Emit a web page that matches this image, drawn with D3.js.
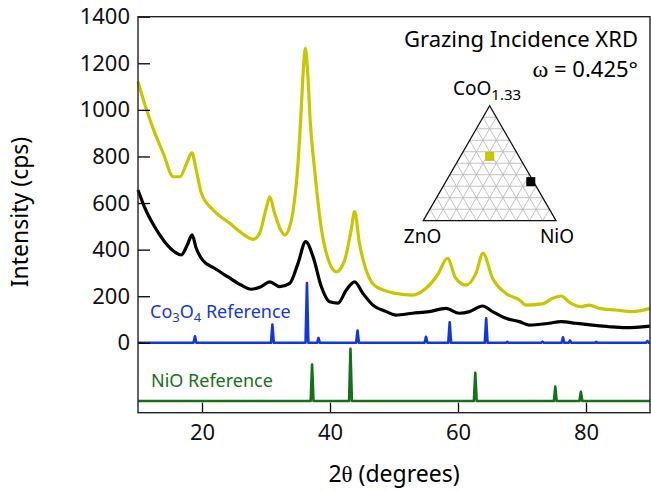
<!DOCTYPE html>
<html>
<head>
<meta charset="utf-8">
<script src="https://cdn.jsdelivr.net/npm/d3@7"></script>
<style>
  body { margin: 0; background: #fff; }
  svg { display: block; font-family: "Noto Sans", sans-serif; }
</style>
</head>
<body>
<svg id="chart" width="651" height="492"></svg>
<script>
// measured XRD traces, [2theta, cps]
const yellowScan = [
  [10, 1121], [11.35, 999], [12.65, 899], [13.95, 813], [15.5, 713], [16.55, 713],
  [17.6, 770], [18.4, 815], [19.2, 728], [19.9, 642], [21.75, 570], [24.35, 513],
  [26.4, 467], [28.0, 444], [29.0, 470], [30.0, 575], [30.6, 627], [31.3, 560],
  [32.2, 490], [32.9, 463], [33.6, 490], [34.2, 560], [35.0, 770], [35.5, 1000],
  [35.8, 1157], [36.15, 1264], [36.55, 1142], [36.9, 956], [37.6, 742], [38.65, 490],
  [39.7, 360], [41.0, 305], [42.3, 355], [43.3, 484], [43.85, 563], [44.6, 427],
  [45.65, 312], [47.2, 241], [50.3, 212], [52.9, 205], [55.0, 234], [56.8, 291],
  [58.35, 363], [59.65, 277], [61.25, 248], [62.8, 298], [63.9, 384], [65.4, 277],
  [67.5, 212], [69.6, 184], [70.6, 162], [73.2, 167], [74.8, 191], [76.1, 201],
  [77.6, 170], [79.2, 155], [80.5, 162], [82.05, 148], [84.65, 141], [87.25, 134],
  [90, 148]
];
const blackScan = [
  [10, 656], [11, 584], [12.6, 498], [14.15, 434], [15.7, 391], [16.75, 377],
  [17.7, 420], [18.45, 463], [19.1, 406], [20.1, 355], [21.95, 320], [24.0, 284],
  [26.1, 248], [27.65, 230], [29.2, 241], [30.6, 262], [32.15, 241], [33.7, 255],
  [35.0, 341], [36.2, 434], [37.35, 370], [38.65, 241], [39.95, 176], [41.25, 170],
  [42.55, 227], [43.85, 262], [45.15, 212], [46.7, 162], [48.8, 134], [50.3, 119],
  [52.9, 127], [55.5, 134], [58.1, 148], [60.2, 127], [61.8, 134], [63.85, 158],
  [65.4, 134], [67.5, 105], [69.6, 91], [71.1, 76], [74.25, 84], [76.1, 91],
  [78.4, 84], [81.0, 76], [83.6, 69], [86.2, 65], [90, 72]
];
// reference patterns, [2theta, peak height]
const co3o4Peaks = [
  [18.9, 28], [31.0, 78], [36.4, 257], [38.2, 21], [44.3, 53], [55.0, 26],
  [58.7, 88], [64.4, 105], [67.7, 4], [73.2, 5], [76.4, 24], [77.5, 10],
  [81.6, 4], [89.6, 8]
];
const nioPeaks = [[37.2, 157], [43.2, 224], [62.7, 121], [75.2, 62], [79.2, 40]];
const co3o4Base = 0;
const nioBase = -250;

const xTicks = [20, 40, 60, 80];
const yTicks = [0, 200, 400, 600, 800, 1000, 1200, 1400];

// ternary compositions [CoO1.33, ZnO, NiO]
const samples = [
  { name: 'yellow', comp: [0.56, 0.22, 0.22] },
  { name: 'black', comp: [0.34, 0.02, 0.64] }
];

const colors = { yellow: '#c8c600', black: '#000', co3o4: '#1438d8', nio: '#16701a' };

const svg = d3.select('#chart');
const x = d3.scaleLinear().domain([10, 90]).range([138, 650]);
const y = d3.scaleLinear().domain([-300, 1400]).range([412.7, 16.7]);

/**
 * Turns a list of sticks into a path with narrow spikes on a baseline.
 */
function stickPoints(peaks, base) {
  const pts = [[10, base]];
  peaks.forEach(([pos, h]) => {
    pts.push([pos - 0.22, base], [pos, base + h], [pos + 0.22, base]);
  });
  pts.push([90, base]);
  return pts;
}

function drawAxes() {
  svg.append('g')
    .attr('transform', 'translate(138,0)')
    .call(d3.axisLeft(y).tickValues(yTicks).tickFormat(d3.format('d'))
      .tickSizeInner(-12).tickSizeOuter(0).tickPadding(8))
    .call((g) => g.select('.domain').remove())
    .call((g) => g.selectAll('line').attr('stroke-width', 1.3))
    .call((g) => g.selectAll('text').attr('font-size', 22).attr('font-family', '"Noto Sans"').attr('fill', '#111'));

  svg.append('g')
    .attr('transform', 'translate(0,412.7)')
    .call(d3.axisBottom(x).tickValues(xTicks).tickSizeInner(-10).tickSizeOuter(0).tickPadding(12))
    .call((g) => g.select('.domain').remove())
    .call((g) => g.selectAll('line').attr('stroke-width', 1.3))
    .call((g) => g.selectAll('text').attr('font-size', 22).attr('font-family', '"Noto Sans"').attr('fill', '#111'));

  svg.append('rect')
    .attr('x', 138).attr('y', 16.7)
    .attr('width', 512).attr('height', 396)
    .attr('fill', 'none').attr('stroke', '#222').attr('stroke-width', 1.4);

  svg.append('text')
    .attr('transform', 'translate(28,212) rotate(-90)')
    .attr('text-anchor', 'middle')
    .attr('font-size', 23)
    .text('Intensity (cps)');

  const xl = svg.append('text')
    .attr('x', 394).attr('y', 482)
    .attr('text-anchor', 'middle')
    .attr('font-size', 23);
  xl.append('tspan').text('2');
  xl.append('tspan').attr('font-family', '"Liberation Serif", serif').text('θ');
  xl.append('tspan').text(' (degrees)');
}

function drawTraces() {
  const sharp = d3.line().x((d) => x(d[0])).y((d) => y(d[1]));
  const smooth = d3.line().x((d) => x(d[0])).y((d) => y(d[1])).curve(d3.curveMonotoneX);

  svg.append('path').datum(stickPoints(nioPeaks, nioBase))
    .attr('d', sharp).attr('fill', 'none')
    .attr('stroke', colors.nio).attr('stroke-width', 2.6).attr('stroke-linejoin', 'round');
  svg.append('path').datum(stickPoints(co3o4Peaks, co3o4Base))
    .attr('d', sharp).attr('fill', 'none')
    .attr('stroke', colors.co3o4).attr('stroke-width', 2.6).attr('stroke-linejoin', 'round');

  svg.append('path').datum(blackScan)
    .attr('d', smooth)
    .attr('fill', 'none').attr('stroke', colors.black).attr('stroke-width', 3.2);
  svg.append('path').datum(yellowScan)
    .attr('d', smooth)
    .attr('fill', 'none').attr('stroke', colors.yellow).attr('stroke-width', 3.2);

  const c = svg.append('text').attr('x', 150).attr('y', 318)
    .attr('font-size', 18).attr('fill', colors.co3o4);
  c.append('tspan').text('Co');
  c.append('tspan').attr('font-size', 13).attr('dy', 4).text('3');
  c.append('tspan').attr('dy', -4).text('O');
  c.append('tspan').attr('font-size', 13).attr('dy', 4).text('4');
  c.append('tspan').attr('dy', -4).text(' Reference');

  svg.append('text').attr('x', 151).attr('y', 387)
    .attr('font-size', 18).attr('fill', colors.nio)
    .text('NiO Reference');
}

function drawInset() {
  svg.append('text').attr('x', 638).attr('y', 47)
    .attr('text-anchor', 'end').attr('font-size', 22)
    .text('Grazing Incidence XRD');
  const w = svg.append('text').attr('x', 638).attr('y', 77)
    .attr('text-anchor', 'end').attr('font-size', 22);
  w.append('tspan').attr('font-family', '"Liberation Serif", serif').attr('font-size', 24).text('ω');
  w.append('tspan').text(' = 0.425°');

  // ternary frame: apex CoO1.33, left ZnO, right NiO
  const left = 423.3, base = 220.7, side = 132.7;
  const h = side * Math.sqrt(3) / 2;
  const tern = ([co, zn, ni]) => [left + (ni + co / 2) * side, base - co * h];
  const n = 10;
  const g = svg.append('g');
  const grid = [];
  for (let i = 1; i < n; i++) {
    const f = i / n;
    grid.push([tern([f, 1 - f, 0]), tern([f, 0, 1 - f])]);
    grid.push([tern([0, f, 1 - f]), tern([1 - f, f, 0])]);
    grid.push([tern([0, 1 - f, f]), tern([1 - f, 0, f])]);
  }
  g.selectAll('line.grid').data(grid).enter().append('line')
    .attr('class', 'grid')
    .attr('x1', (d) => d[0][0]).attr('y1', (d) => d[0][1])
    .attr('x2', (d) => d[1][0]).attr('y2', (d) => d[1][1])
    .attr('stroke', '#bbb').attr('stroke-width', 0.9);
  g.append('path')
    .attr('d', d3.line()([tern([1, 0, 0]), tern([0, 1, 0]), tern([0, 0, 1])]) + 'Z')
    .attr('fill', 'none').attr('stroke', '#111').attr('stroke-width', 1.3);

  g.selectAll('rect.sample').data(samples).enter().append('rect')
    .attr('class', 'sample')
    .attr('x', (d) => tern(d.comp)[0] - 4.5).attr('y', (d) => tern(d.comp)[1] - 4.5)
    .attr('width', 9).attr('height', 9)
    .attr('fill', (d) => colors[d.name]);

  const top = svg.append('text').attr('x', 453).attr('y', 95).attr('font-size', 19);
  top.append('tspan').text('CoO');
  top.append('tspan').attr('font-size', 15).attr('dy', 5).text('1.33');
  svg.append('text').attr('x', 422.5).attr('y', 242.7).attr('text-anchor', 'middle')
    .attr('font-size', 19).text('ZnO');
  svg.append('text').attr('x', 557).attr('y', 242.7).attr('text-anchor', 'middle')
    .attr('font-size', 19).text('NiO');
}

drawTraces();
drawAxes();
drawInset();
</script>
</body>
</html>
